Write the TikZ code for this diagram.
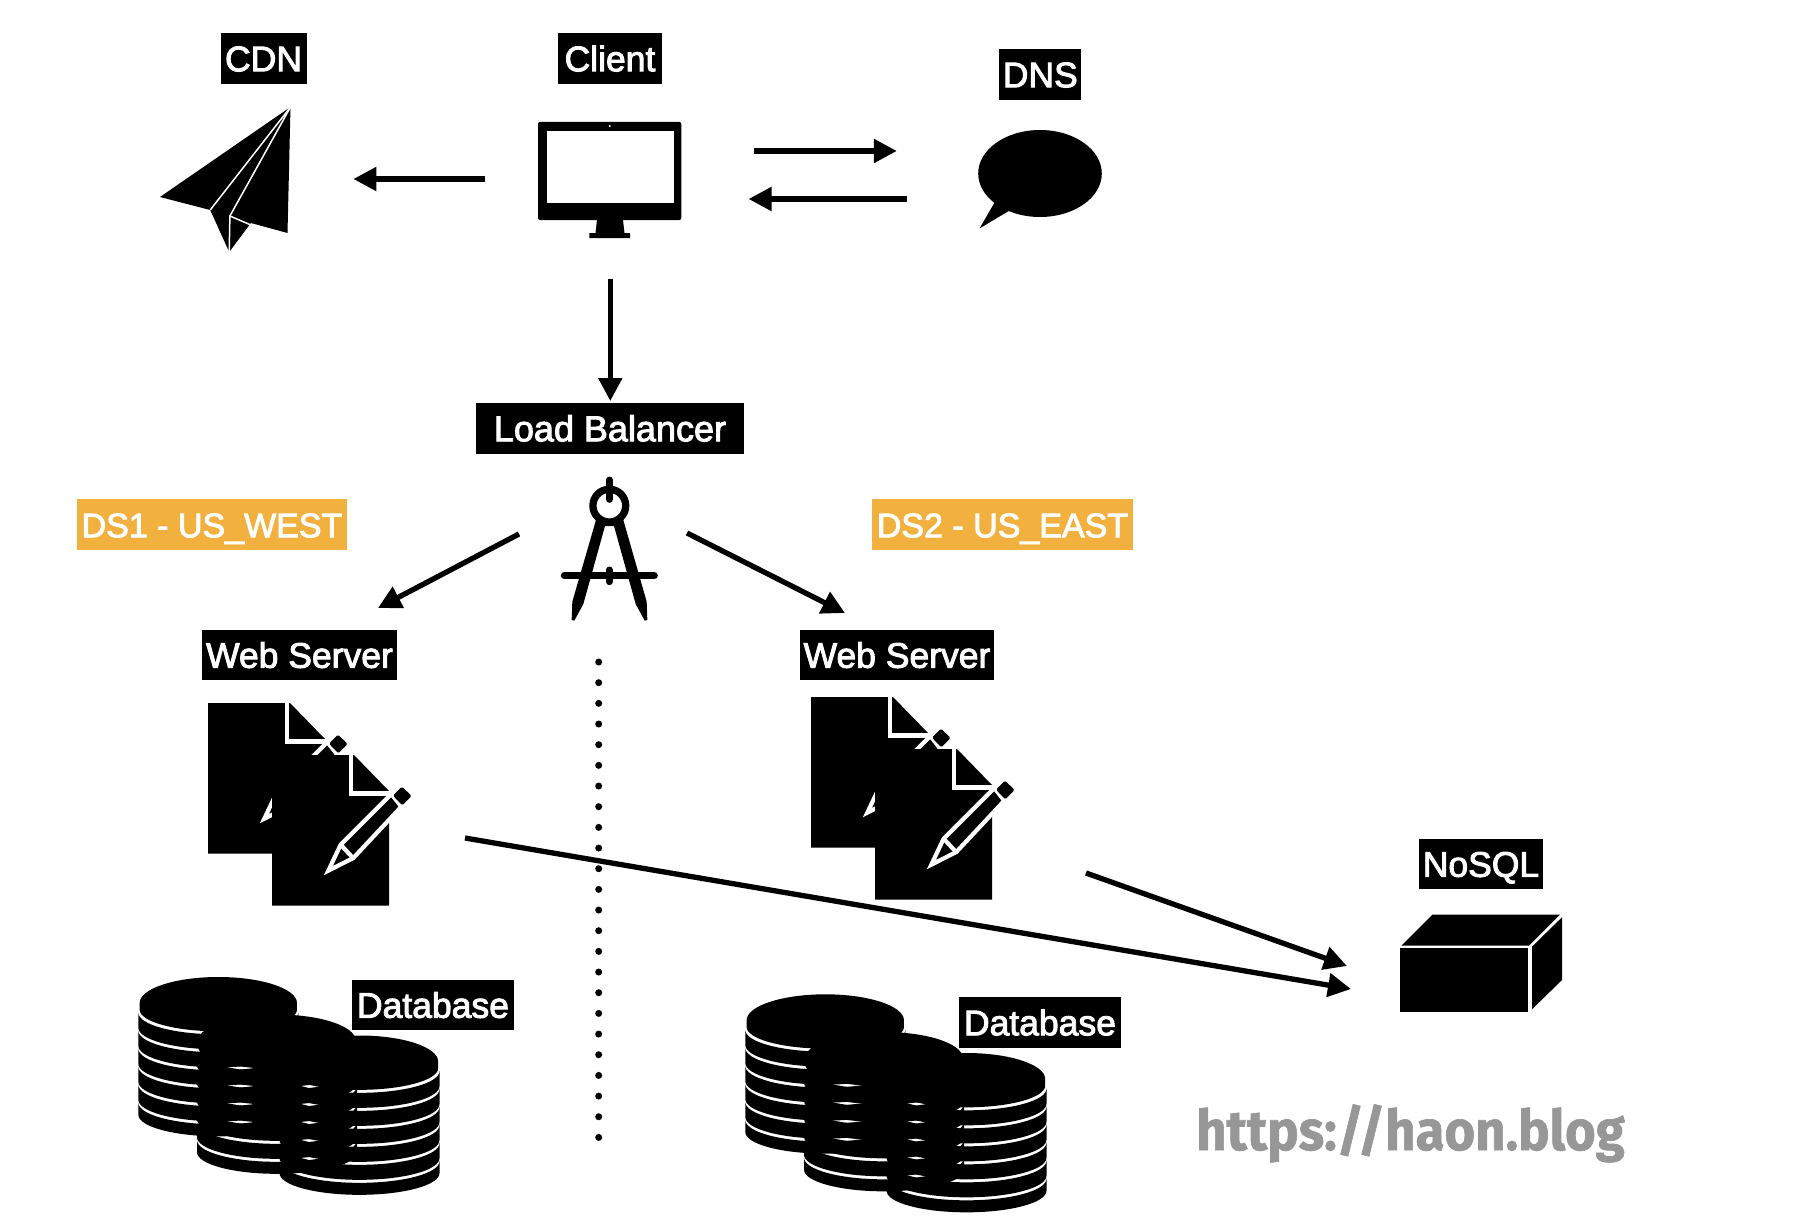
\documentclass[tikz,border=0pt]{standalone}
\usepackage{fontspec}
\setmainfont{Liberation Sans}
\newfontfamily\labelfont[FakeBold=2.6]{Liberation Sans}
\newfontfamily\wmfont[FakeBold=1.2]{Fira Sans}
\usetikzlibrary{arrows.meta}
\definecolor{dsorange}{HTML}{F2B13F}
\definecolor{wmgray}{HTML}{979797}
\tikzset{
  tag/.style={fill=black,text=white,inner sep=0pt,text height=28.5pt,text depth=3pt,
    font=\labelfont\fontsize{35.5}{40}\selectfont,minimum height=50.5pt,align=center},
  dstag/.style={tag,fill=dsorange,font=\labelfont\fontsize{34}{40}\selectfont},
  link/.style={line width=5.3pt,-{Triangle[length=23pt,width=23pt]}},
}
\newcommand{\dbband}[2]{%
  \fill[black] (-240,#1) .. controls (-240,#1+36) and (-132.5,#1+65) .. (0,#1+65)
    .. controls (132.5,#1+65) and (240,#1+36) .. (240,#1)
    -- (240,#1+#2) .. controls (240,#1+#2+36) and (132.5,#1+#2+65) .. (0,#1+#2+65)
    .. controls (-132.5,#1+#2+65) and (-240,#1+#2+36) .. (-240,#1+#2) -- cycle;}
\newcommand{\dbicon}[2]{%
  \begin{scope}[shift={(#1,#2)},x=0.33333pt,y=-0.33333pt]
    \fill[black] (-236,78) .. controls (-236,35) and (-130,0) .. (0,0)
      .. controls (130,0) and (236,35) .. (236,78)
      -- (236,98) .. controls (236,134) and (130,163) .. (0,163)
      .. controls (-130,163) and (-236,134) .. (-236,98) -- cycle;
    \dbband{107}{45}\dbband{161}{45}\dbband{215}{45}\dbband{269}{45}\dbband{323}{45}\dbband{377}{36}
  \end{scope}}
\newcommand{\onedoc}{%
  \fill[black] (366,405) -- (612,405) -- (717,513) -- (717,857) -- (366,857) -- cycle;
  \draw[white,line width=4.8pt] (603,405) -- (603,520) -- (722,520);
  \filldraw[fill=black,draw=white,line width=4.2pt,line join=miter]
    (535,752) -- (572,674) -- (724,522) -- (754,560) -- (610,714) -- cycle;
  \draw[white,line width=4.2pt] (570,672) -- (612,717);
  \fill[black,rounded corners=1.5pt] (756,500) -- (785,528) -- (757,556) -- (729,527) -- cycle;}
\newcommand{\docpair}[2]{%
  \begin{scope}[shift={(150+#1,620+#2)},x=0.33333pt,y=-0.33333pt]
    \begin{scope}[xshift=-64pt,yshift=52pt]\onedoc\end{scope}
    \onedoc
  \end{scope}}
\begin{document}
\begin{tikzpicture}[x=1pt,y=-1pt]
\useasboundingbox (0,0) rectangle (1816,1220);
\fill[white] (0,0) rectangle (1816,1220);

% labels
\node[tag,minimum width=86pt]  (cdnlabel)    at (263.5,58.5) {CDN};
\node[tag,minimum width=103.2pt] (clientlabel) at (610,58.5) {Client};
\node[tag,minimum width=82pt]  (dnslabel)    at (1040.3,74.5) {DNS};
\node[tag,minimum width=267.4pt,font=\labelfont\fontsize{36}{40}\selectfont] (lblabel) at (610,428.5) {Load Balancer};
\node[dstag,minimum width=270pt] (ds1) at (212,524.5) {DS1 - US\_WEST};
\node[dstag,minimum width=261pt] (ds2) at (1002.5,524.5) {DS2 - US\_EAST};
\node[tag,minimum width=195pt] (web1) at (299.5,655) {Web Server};
\node[tag,minimum width=194pt] (web2) at (897,655) {Web Server};
\node[tag,minimum width=162pt] (db1)  at (433,1005) {Database};
\node[tag,minimum width=162pt] (db2)  at (1040,1022.5) {Database};
\node[tag,minimum width=124pt] (nosqllabel) at (1481,864) {NoSQL};

% CDN paper plane
\fill[black,line join=round] (290.5,107) -- (160,197) -- (210.2,210) -- (229.2,252) -- (250.9,223) -- (287.5,233) -- cycle;
\draw[white,line width=1.5pt] (290.5,107) -- (210.2,210);
\draw[white,line width=1.5pt] (290.5,107) -- (229.9,216) -- (229.2,252);
\draw[white,line width=1.5pt] (229.9,216) -- (250.9,225);

% Client monitor
\fill[black,rounded corners=2pt] (538,122) rectangle (681.3,220);
\fill[white] (546.5,131) rectangle (673.5,203);
\fill[white] (609.7,126) circle [radius=1.2pt];
\fill[black] (597,220) -- (623,220) -- (624.5,233) -- (630,233) -- (630,238) -- (589.3,238) -- (589.3,233) -- (595.5,233) -- cycle;

% DNS bubble
\fill[black] (1040,173.5) ellipse [x radius=61.8pt,y radius=43.5pt];
\fill[black] (996,200) -- (979.5,228.5) -- (1012,209) -- cycle;

% compass
\begin{scope}[shift={(520,460)},x=0.33333pt,y=-0.33333pt]
  \draw[black,line width=7.3pt] (268,137) circle [radius=16.4pt];
  \draw[black,line width=7pt,line cap=round] (268,60) -- (268,118);
  \fill[black] (228,180) -- (157,425) -- (155,480) -- (163,482) -- (190,432) -- (255,198) -- (282,198)
     -- (347,432) -- (374,482) -- (382,480) -- (380,425) -- (310,180) -- cycle;
  \draw[black,line width=7pt,line cap=round] (133,347) -- (403,347);
  \draw[black,line width=7pt,line cap=round] (268,330) -- (268,365);
\end{scope}

% web server documents
\docpair{0}{0}
\docpair{603}{-6}

% databases
\dbicon{218.3}{977}\dbicon{277}{1014.5}\dbicon{359.5}{1035.5}
\dbicon{825.3}{994.3}\dbicon{884}{1032}\dbicon{966.5}{1053}

% NoSQL box
\fill[black] (1400,948.3) rectangle (1528,1011.7);
\fill[black] (1401.7,945.5) -- (1432.7,914.5) -- (1560,914.5) -- (1529,945.5) -- cycle;
\fill[black] (1532,946.7) -- (1562,917.3) -- (1562,980) -- (1532,1009.3) -- cycle;

% dotted divider
\foreach \k in {0,...,23} \fill[black] (598.7,662+20.67*\k) circle [radius=3.5pt];

% connectors
\coordinate (c1) at (485.4,179);   \coordinate (cdnend) at (353.4,179);
\coordinate (c2) at (754.3,151);   \coordinate (dnsin) at (896.8,151);
\coordinate (d1) at (907.3,199);   \coordinate (clientin) at (748.6,199);
\coordinate (c3) at (610.3,279);   \coordinate (lbin) at (610.3,401);
\coordinate (l1) at (519,534);     \coordinate (w1in) at (378,608);
\coordinate (l2) at (687,533);     \coordinate (w2in) at (845,613);
\coordinate (w1out) at (465,838);  \coordinate (n1) at (1351,989);
\coordinate (w2out) at (1086,873); \coordinate (n2) at (1347,966);
\draw[link] (c1) -- (cdnend);
\draw[link] (c2) -- (dnsin);
\draw[link] (d1) -- (clientin);
\draw[link] (c3) -- (lbin);
\draw[link] (l1) -- (w1in);
\draw[link] (l2) -- (w2in);
\draw[link] (w1out) -- (n1);
\draw[link] (w2out) -- (n2);

% watermark
\node[anchor=base,inner sep=0pt,text=wmgray,xscale=0.94,transform shape,font=\wmfont\bfseries\fontsize{56}{60}\selectfont] (blog) at (1410.5,1150) {https://haon.blog};
\end{tikzpicture}
\end{document}
